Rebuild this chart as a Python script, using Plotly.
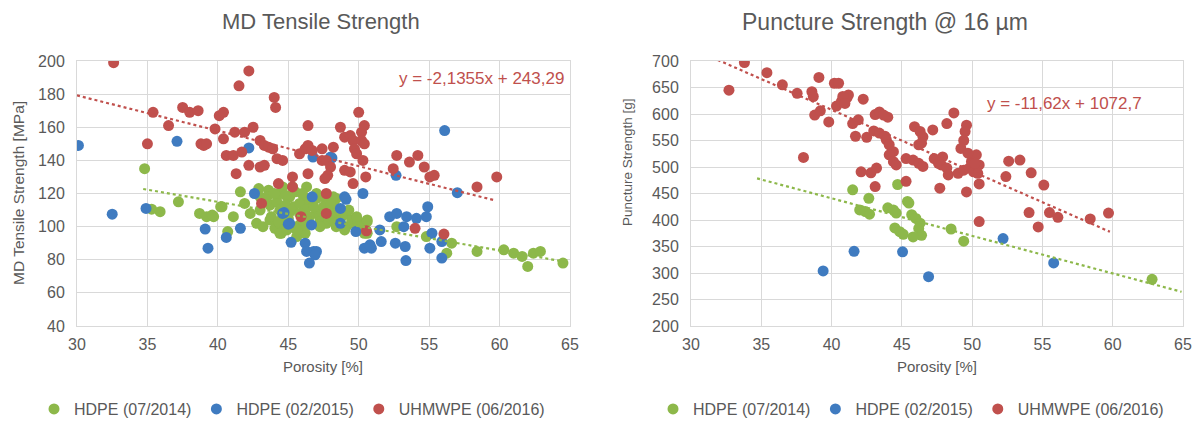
import plotly.graph_objects as go

# ---------------- Data: MD Tensile Strength (left) ----------------
tens_green_x = [34.8, 35.3, 35.9, 37.2, 38.7, 39.2, 39.7, 40.3, 41.1, 40.7, 41.6, 41.9,
                42.3, 42.75, 43.2, 42.9, 43.6, 43.7, 44.2, 44.4, 44.6, 43.7, 44.05, 44.5,
                44.6, 45.1, 46.1, 46.3, 46.5, 44.9, 45.5, 45.8, 45.6, 46.2, 47.0, 47.25,
                47.7, 48.2, 48.4, 48.4, 47.7, 49.1, 49.6, 50.1, 49.1, 50.6, 50.6, 47.0,
                44.4, 45.35, 45.8, 46.2, 46.5, 47.4, 48.0, 48.3, 47.25, 48.4, 49.0, 49.5,
                49.85, 50.6, 50.4, 46.1, 45.6, 44.9, 44.4, 52.7, 54.8, 56.6, 56.25, 58.4,
                60.3, 61.0, 61.6, 62.0, 62.4, 62.9, 64.5, 44.4, 45.3, 46.3, 47.0, 47.5,
                48.2, 49.85, 45.5, 46.0, 44.8, 43.0, 40.2, 39.6,
                43.5, 44.0, 44.8, 45.2, 45.8, 46.0, 43.0, 43.8, 44.3, 45.0, 46.8, 47.5,
                48.0, 48.8, 49.3, 50.0]
tens_green_y = [135, 110.5, 109, 115, 108, 106, 106, 112, 106, 97, 121, 114,
                108, 102, 100, 123, 122, 113, 115, 110, 106, 104, 99, 96,
                124, 118, 118, 112, 114, 100, 99, 101, 94, 96, 108, 103,
                102, 104, 109, 117, 119, 100, 102, 102, 108, 104, 96, 117,
                96, 112, 114, 110, 106, 109, 108, 112, 100, 100, 98, 104,
                105, 103, 96, 101, 98, 98, 102, 100, 94, 90, 84, 85,
                86, 84, 82, 76, 84, 85, 78, 120, 124, 124, 120, 118,
                118, 106, 121, 120, 119, 118, 112, 107,
                118, 120, 113, 110, 108, 104, 110, 106, 103, 105, 112, 112,
                114, 106, 110, 100]

tens_blue_x = [30.1, 32.5, 34.9, 37.1, 39.1, 39.3, 40.6, 41.6, 42.2, 42.6, 44.7, 45.0,
               45.2, 48.1, 46.75, 50.3, 46.7, 49.0, 56.1, 52.65, 57.0, 48.7, 49.1, 44.6,
               52.2, 52.7, 53.4, 54.1, 54.8, 54.9, 45.1, 46.2, 46.3, 46.8, 47.0, 46.9,
               46.5, 46.65, 48.7, 49.8, 50.4, 50.9, 50.8, 51.5, 51.6, 52.6, 53.3, 53.35,
               53.2, 55.05, 55.2, 55.9, 55.9, 48.0]
tens_blue_y = [149, 107.5, 111, 151.5, 98.5, 87, 93.5, 99, 147.5, 120, 108.5, 101.5,
               90.5, 141.5, 142, 120, 118, 118, 158, 131, 120.5, 111, 116.5, 108,
               106, 108, 106, 105, 106, 112, 102, 90, 85, 85, 85, 83,
               78, 101, 102, 97, 87, 87, 89, 98, 91, 90, 88, 79.5,
               100, 87, 96, 91, 81, 142]

tens_red_x = [32.6, 35.0, 35.4, 36.5, 37.5, 38.0, 38.6, 38.8, 39.0, 39.2, 39.8, 40.1,
              40.4, 40.4, 40.6, 41.1, 41.7, 41.2, 41.9, 42.5, 41.3, 41.5, 42.2, 42.2,
              43.0, 43.3, 43.6, 43.9, 43.0, 43.3, 44.0, 44.1, 44.2, 44.6, 44.3, 45.3,
              45.3, 46.4, 46.4, 45.8, 46.2, 46.4, 46.7, 47.4, 47.4, 47.7, 48.0, 47.8,
              47.6, 48.2, 47.7, 48.7, 49.0, 49.4, 49.6, 49.7, 49.85, 50.0, 50.2, 50.4,
              50.3, 50.5, 49.6, 49.0, 49.4, 50.2, 50.4, 52.7, 52.45, 53.6, 54.2, 54.65,
              55.05, 55.36, 58.4, 59.8, 47.7, 45.9, 50.55, 54.0, 56.05, 43.1]
tens_red_y = [199, 150, 169, 161, 172, 169, 170, 150, 149, 150, 159, 167,
              169, 153, 143, 143, 145, 157, 157, 160, 132, 185, 194, 137,
              152, 149, 148, 147, 136, 137, 178, 172, 141, 140, 126, 130,
              124, 132, 161, 144, 147, 149, 146, 147, 140, 140, 136, 131,
              129, 148, 120, 160, 154, 155, 152, 147, 144, 169, 157, 161,
              140, 130, 126, 134, 133, 152, 150, 143, 135, 139, 143, 136,
              130, 131, 124, 130, 108, 106, 97.5, 99, 95.5, 114]

# trendlines (slope, intercept, x-start, x-end)
tens_red_trend = (-2.1355, 243.29, 30.0, 59.6)
tens_green_trend = (-1.466, 173.6, 34.7, 64.5)
tens_red_eq = "y = -2,1355x + 243,29"

# ---------------- Data: Puncture Strength (right) ----------------
punc_green_x = [41.5, 42.65, 42.0, 42.4, 42.7, 44.7, 45.4, 44.0, 44.4, 44.6, 44.5, 44.85,
                45.1, 45.7, 46.0, 46.3, 46.2, 46.4, 45.8, 48.5, 49.4, 45.5, 62.8]
punc_green_y = [457, 441, 419, 416, 411, 467, 435, 423, 419, 413, 385, 378,
                373, 410, 403, 394, 384, 371, 368, 383, 360, 432, 288]

punc_blue_x = [39.4, 41.6, 45.05, 46.9, 52.2, 55.8]
punc_blue_y = [304, 341, 340, 293, 365, 319]

punc_red_x = [32.7, 33.8, 35.4, 36.5, 37.55, 38.6, 38.7, 39.1, 38.8, 39.2, 39.8, 38.0,
              40.2, 40.5, 40.35, 40.7, 41.1, 41.2, 40.8, 40.95, 42.25, 41.5, 41.9, 41.7,
              42.5, 43.1, 43.4, 44.0, 43.7, 43.0, 43.4, 43.8, 43.9, 44.1, 44.4, 44.1,
              44.4, 44.6, 42.1, 42.8, 43.2, 43.1, 45.3, 45.8, 46.2, 46.5, 45.9, 46.3,
              46.5, 46.2, 46.4, 47.2, 48.2, 48.7, 49.6, 49.5, 49.4, 49.2, 47.3, 47.6,
              47.9, 47.8, 48.2, 48.3, 49.0, 49.4, 49.8, 50.1, 49.95, 50.3, 50.5, 50.4,
              50.5, 47.7, 49.6, 45.3, 52.6, 53.4, 52.4, 50.5, 54.2, 55.1, 54.05, 55.5,
              56.1, 54.7, 58.4, 59.7, 49.7, 50.2]
punc_red_y = [645, 697, 678, 655, 639, 642, 633, 669, 598, 606, 585, 518,
              658, 658, 615, 624, 631, 636, 633, 620, 628, 582, 589, 558,
              556, 599, 604, 594, 598, 568, 564, 558, 551, 542, 529, 523,
              510, 504, 491, 489, 498, 463, 516, 513, 507, 501, 576, 567,
              557, 542, 545, 570, 582, 602, 579, 567, 550, 535, 516, 507,
              519, 504, 498, 485, 488, 494, 498, 491, 510, 523, 504, 488,
              468, 460, 453, 473, 511, 513, 482, 397, 489, 466, 414, 414,
              405, 387, 402, 413, 526, 507]

punc_red_trend = (-11.62, 1072.7, 31.9, 59.8)
punc_green_trend = (-7.086, 724.4, 34.7, 64.9)
punc_red_eq = "y = -11,62x + 1072,7"

series_names = ["HDPE (07/2014)", "HDPE (02/2015)", "UHMWPE (06/2016)"]
chart_titles = ["MD Tensile Strength", "Puncture Strength @ 16 µm"]
y_titles = ["MD Tensile Strength [MPa]", "Puncture Strength [g]"]
x_title = "Porosity [%]"

# ---------------- Styling ----------------
W, H = 1195, 421
GREEN = "#8DB84A"
BLUE = "#3F7BC0"
RED = "#C0504D"
TXT = "#595959"
GRID = "#D9D9D9"
FONT = "Liberation Sans, Arial, sans-serif"
MS = 11


def px_x(p):
    return p / W


def px_y(p):
    return 1 - p / H


fig = go.Figure()

charts = [
    dict(xa="x", ya="y", legend="legend",
         series=[(tens_green_x, tens_green_y, GREEN), (tens_blue_x, tens_blue_y, BLUE),
                 (tens_red_x, tens_red_y, RED)],
         trends=[(tens_green_trend, GREEN), (tens_red_trend, RED)]),
    dict(xa="x2", ya="y2", legend="legend2",
         series=[(punc_green_x, punc_green_y, GREEN), (punc_blue_x, punc_blue_y, BLUE),
                 (punc_red_x, punc_red_y, RED)],
         trends=[(punc_green_trend, GREEN), (punc_red_trend, RED)]),
]

for ch in charts:
    for (xs, ys, col), name in zip(ch["series"], series_names):
        fig.add_trace(go.Scatter(
            x=xs, y=ys, mode="markers", name=name,
            marker=dict(size=MS, color=col, line=dict(width=0)),
            xaxis=ch["xa"], yaxis=ch["ya"], legend=ch["legend"], showlegend=True))
    for (m, b, x0, x1), col in ch["trends"]:
        fig.add_trace(go.Scatter(
            x=[x0, x1], y=[m * x0 + b, m * x1 + b], mode="lines",
            line=dict(color=col, width=2.2, dash="dot"),
            xaxis=ch["xa"], yaxis=ch["ya"], showlegend=False, hoverinfo="skip"))

axis_common = dict(showgrid=True, gridcolor=GRID, gridwidth=1, zeroline=False,
                   showline=True, linecolor=GRID, linewidth=1, mirror=True,
                   ticks="", automargin=False,
                   tickfont=dict(size=16, color=TXT, family=FONT))

ydom = [px_y(326), px_y(61)]
legend_common = dict(orientation="h", y=px_y(409), xanchor="left", yanchor="middle",
                     font=dict(size=16, color=TXT, family=FONT), itemwidth=30,
                     bgcolor="rgba(0,0,0,0)")
fig.update_layout(
    width=W, height=H, margin=dict(l=0, r=0, t=0, b=0, autoexpand=False),
    paper_bgcolor="white", plot_bgcolor="white",
    font=dict(family=FONT, color=TXT),
    xaxis=dict(domain=[px_x(77), px_x(570)], range=[30, 65], dtick=5, anchor="y",
               ticklabelstandoff=4, **axis_common),
    yaxis=dict(domain=ydom, range=[40, 200], dtick=20, anchor="x",
               ticklabelstandoff=8, **axis_common),
    xaxis2=dict(domain=[px_x(691), px_x(1183)], range=[30, 65], dtick=5, anchor="y2",
                ticklabelstandoff=4, **axis_common),
    yaxis2=dict(domain=ydom, range=[200, 700], dtick=50, anchor="x2",
                ticklabelstandoff=8, **axis_common),
    legend=dict(x=px_x(34), **legend_common),
    legend2=dict(x=px_x(653), **legend_common),
)


def label(text, x, y, size, color=TXT, angle=0, xanchor="center"):
    return dict(text=text, x=px_x(x), y=px_y(y), xref="paper", yref="paper",
                xanchor=xanchor, yanchor="middle", showarrow=False, textangle=angle,
                font=dict(size=size, color=color, family=FONT))


ann = [
    label(chart_titles[0], 321, 22, 22),
    label(chart_titles[1], 885, 22, 23),
    label(x_title, 323, 366, 15),
    label(x_title, 937, 366, 15),
    label(y_titles[0], 18, 193, 15.5, angle=-90),
    label(y_titles[1], 628, 162, 13.5, angle=-90),
    label(tens_red_eq, 566, 79, 17, color=RED, xanchor="right"),
    label(punc_red_eq, 1144, 103, 17, color=RED, xanchor="right"),
]
fig.update_layout(annotations=ann)

fig.write_html("out.html")
